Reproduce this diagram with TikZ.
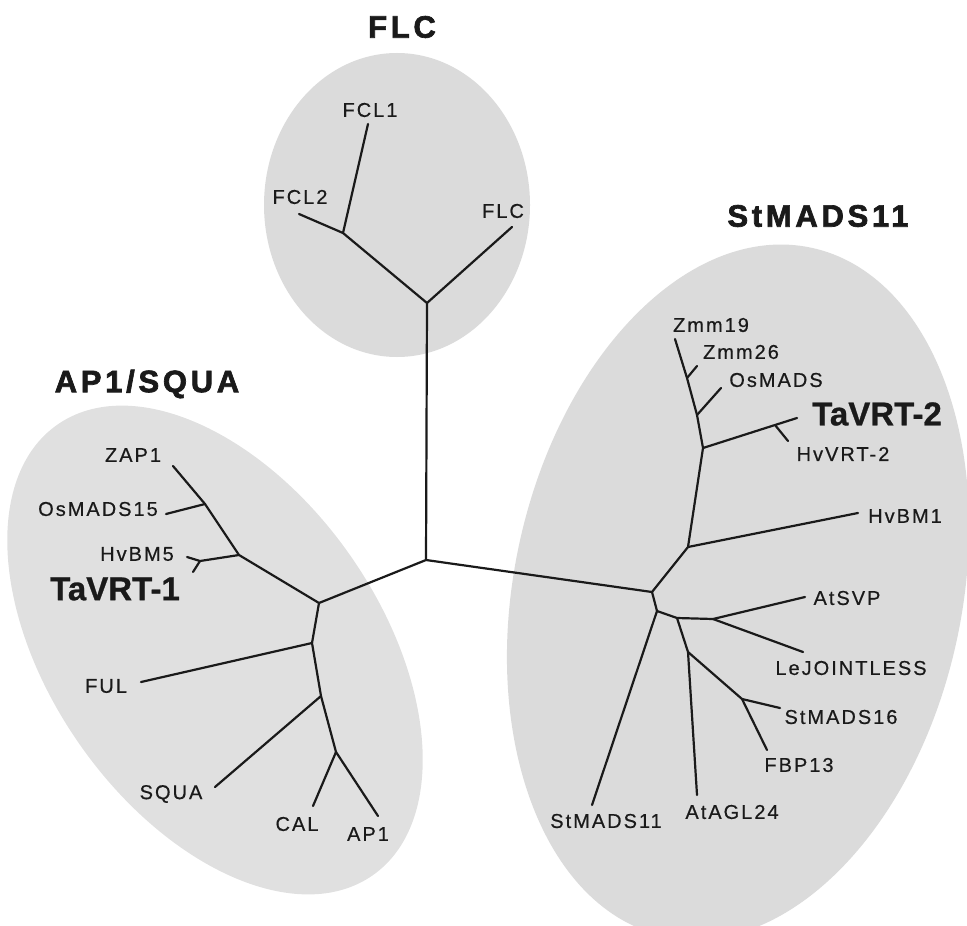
\documentclass[tikz,border=0pt]{standalone}
\usepackage{fontspec}
\setmainfont{Liberation Sans}[BoldFeatures={FakeBold=0.8}]
\newfontfamily\leaffont{Liberation Sans}[LetterSpace=10, FakeBold=0.5]
\newfontfamily\cladefont{Liberation Sans}[LetterSpace=12, BoldFeatures={FakeBold=2.2}]
\usetikzlibrary{positioning}
\definecolor{cladegray}{HTML}{DBDBDB}
\definecolor{branchink}{HTML}{1A1A1A}
\tikzset{
  clade/.style={fill=cladegray, draw=none},
  branch/.style={draw=branchink, line width=1.1pt, line cap=round, line join=round},
  leaf/.style={inner sep=0pt, text=branchink, font=\leaffont\fontsize{10}{12}\selectfont},
  vrt/.style={inner sep=0pt, text=branchink, font=\bfseries\fontsize{16.5}{19}\selectfont},
  family/.style={inner sep=0pt, text=branchink, font=\cladefont\bfseries\fontsize{15.5}{18}\selectfont},
}

\begin{document}
\begin{tikzpicture}[x=0.5pt, y=-0.5pt]
\useasboundingbox (0,0) rectangle (967,925);
\fill[clade] (397,205) ellipse (66.5pt and 76pt);
\fill[clade, fill=cladegray!85, rotate around={-55:(215,650)}] (215,650) ellipse (137.5pt and 82.5pt);
\fill[clade, rotate around={-12:(738,592)}] (738,592) ellipse (112pt and 176pt);

\coordinate (R) at (426,560);
% FLC
\coordinate (F0) at (427,303);
\coordinate (F1) at (343,233);
\coordinate (Tfcl1) at (368,124);
\coordinate (Tfcl2) at (299,214);
\coordinate (Tflc) at (512,227);
% AP1/SQUA
\coordinate (A0) at (319,603);
\coordinate (A1) at (239,555);
\coordinate (A2) at (205,504);
\coordinate (A3) at (200,561);
\coordinate (A4) at (312,643);
\coordinate (A5) at (321,696);
\coordinate (A6) at (336,752);
\coordinate (Tzap1) at (173,466);
\coordinate (Tos15) at (166,514);
\coordinate (Thvbm5) at (187,557);
\coordinate (Tvrt1) at (193,572);
\coordinate (Tful) at (141,682);
\coordinate (Tsqua) at (215,787);
\coordinate (Tcal) at (313,806);
\coordinate (Tap1) at (378,816);
% StMADS11
\coordinate (S1) at (652,592);
\coordinate (S2) at (657,611);
\coordinate (S3) at (677,618);
\coordinate (S4) at (713,619);
\coordinate (S5) at (688,652);
\coordinate (S6) at (742,699);
\coordinate (S7) at (688,547);
\coordinate (S8) at (703,448);
\coordinate (S9) at (697,415);
\coordinate (S10) at (687,378);
\coordinate (S11) at (775,425);
\coordinate (Tst11) at (592,805);
\coordinate (Tagl24) at (697,795);
\coordinate (Tst16) at (780,708);
\coordinate (Tfbp13) at (767,750);
\coordinate (Tsvp) at (805,597);
\coordinate (Tjoint) at (803,652);
\coordinate (Thvbm1) at (858,513);
\coordinate (Tvrt2) at (797,418);
\coordinate (Thvvrt2) at (788,441);
\coordinate (Tosm) at (721,388);
\coordinate (Tzmm26) at (697,366);
\coordinate (Tzmm19) at (675,339);

\draw[branch] (Tfcl1) -- (F1) -- (F0) -- (Tflc);
\draw[branch] (Tfcl2) -- (F1);
\draw[branch] (F0) -- (R) -- (A0);
\draw[branch] (R) -- (S1);

\draw[branch] (A0) -- (A1) -- (A2) -- (Tzap1);
\draw[branch] (A2) -- (Tos15);
\draw[branch] (A1) -- (A3) -- (Thvbm5);
\draw[branch] (A3) -- (Tvrt1);
\draw[branch] (A0) -- (A4) -- (A5) -- (A6) -- (Tap1);
\draw[branch] (A4) -- (Tful);
\draw[branch] (A5) -- (Tsqua);
\draw[branch] (A6) -- (Tcal);

\draw[branch] (S1) -- (S7) -- (S8) -- (S9) -- (S10) -- (Tzmm19);
\draw[branch] (S10) -- (Tzmm26);
\draw[branch] (S9) -- (Tosm);
\draw[branch] (S8) -- (S11) -- (Tvrt2);
\draw[branch] (S11) -- (Thvvrt2);
\draw[branch] (S7) -- (Thvbm1);
\draw[branch] (S1) -- (S2) -- (S3) -- (S4) -- (Tsvp);
\draw[branch] (S4) -- (Tjoint);
\draw[branch] (S2) -- (Tst11);
\draw[branch] (S3) -- (S5) -- (Tagl24);
\draw[branch] (S5) -- (S6) -- (Tfbp13);
\draw[branch] (S6) -- (Tst16);

\node[family] (tflc) at (402,27) {FLC};
\node[family] (tap) at (147,384) {AP1/SQUA};
\node[family] (tst) at (818,216) {StMADS11};

\node[leaf] (fcl1) at (370,110) {FCL1};
\node[leaf] (fcl2) at (300,197) {FCL2};
\node[leaf] (flc) at (503,211) {FLC};

\node[leaf] (zap1) at (133,455) {ZAP1};
\node[leaf] (os15) at (98,509) {OsMADS15};
\node[leaf] (hvbm5) at (137,554) {HvBM5};
\node[vrt] (vrt1) at (115,589) {TaVRT-1};
\node[leaf] (ful) at (106,686) {FUL};
\node[leaf] (squa) at (171,794) {SQUA};
\node[leaf] (cal) at (297,824) {CAL};
\node[leaf] (ap1) at (368,834) {AP1};

\node[leaf] (zmm19) at (711,325) {Zmm19};
\node[leaf] (zmm26) at (741,352) {Zmm26};
\node[leaf] (osm) at (776,380) {OsMADS};
\node[vrt] (vrt2) at (877,414) {TaVRT-2};
\node[leaf] (hvvrt2) at (843,454) {HvVRT-2};
\node[leaf] (hvbm1) at (905,516) {HvBM1};
\node[leaf] (svp) at (847,598) {AtSVP};
\node[leaf] (joint) at (851,668) {LeJOINTLESS};
\node[leaf] (st16) at (841,717) {StMADS16};
\node[leaf] (fbp13) at (799,765) {FBP13};
\node[leaf] (agl24) at (732,812) {AtAGL24};
\node[leaf] (st11) at (606,821) {StMADS11};
\end{tikzpicture}
\end{document}
